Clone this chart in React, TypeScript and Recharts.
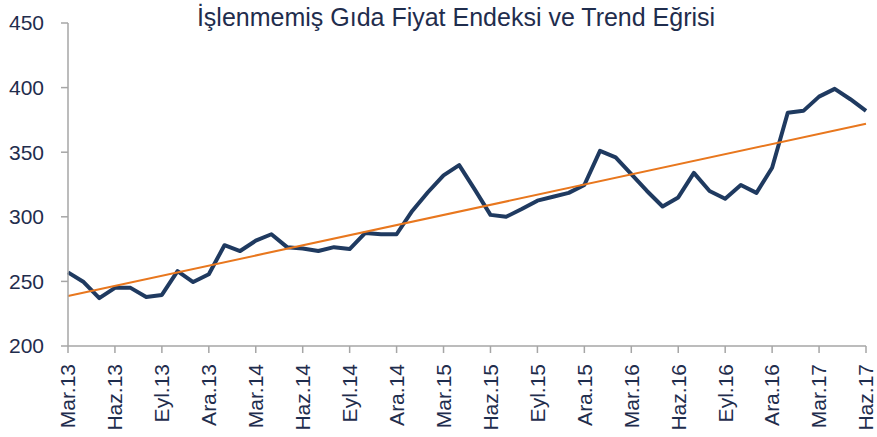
import { CartesianGrid, Line, LineChart, ReferenceLine, XAxis, YAxis } from "recharts";

const MONTHS = [
  "Mar.13", "Nis.13", "May.13", "Haz.13", "Tem.13", "Ağu.13", "Eyl.13", "Eki.13", "Kas.13", "Ara.13",
  "Oca.14", "Şub.14", "Mar.14", "Nis.14", "May.14", "Haz.14", "Tem.14", "Ağu.14", "Eyl.14", "Eki.14", "Kas.14", "Ara.14",
  "Oca.15", "Şub.15", "Mar.15", "Nis.15", "May.15", "Haz.15", "Tem.15", "Ağu.15", "Eyl.15", "Eki.15", "Kas.15", "Ara.15",
  "Oca.16", "Şub.16", "Mar.16", "Nis.16", "May.16", "Haz.16", "Tem.16", "Ağu.16", "Eyl.16", "Eki.16", "Kas.16", "Ara.16",
  "Oca.17", "Şub.17", "Mar.17", "Nis.17", "May.17", "Haz.17",
];

const INDEX_VALUES = [
  257, 249.5, 237, 245, 245, 238, 239.5, 258, 249.5, 255.5,
  278, 273.5, 281.5, 286.5, 276.5, 275.5, 273.5, 276.5, 275, 287.5, 286.5, 286.5,
  304.5, 319, 332, 340, 321, 301.5, 300, 306, 312.5, 315.5, 318.5, 324.6,
  351, 346, 333, 320, 308, 315, 334, 320, 314, 324.6, 318.5, 338,
  380.5, 382, 393, 399, 391, 382,
];

// trend line end points (start / end of the fitted line)
const TREND_START = 238.7;
const TREND_END = 372;

const Y_TICKS = [200, 250, 300, 350, 400, 450];

const TEXT_COLOR = "#1f2d4d";
const AXIS_COLOR = "#a6a6a6";
const FONT = "'Liberation Sans', Arial, sans-serif";

const data = MONTHS.map((month, i) => ({ month, value: INDEX_VALUES[i] }));

const RotatedTick = ({ x, y, payload }: any) => (
  <g transform={`translate(${x},${y + 9})`}>
    <text
      x={0}
      y={0}
      dy="0.35em"
      textAnchor="end"
      transform="rotate(-90)"
      fill={TEXT_COLOR}
      fontSize={21}
      fontFamily={FONT}
    >
      {payload.value}
    </text>
  </g>
);

export default function App() {
  return (
    <div style={{ position: "absolute", left: 0, top: 0, width: 877, height: 437, background: "#fff" }}>
      <div
        style={{
          position: "absolute",
          left: 0,
          top: 3,
          width: 912,
          textAlign: "center",
          fontFamily: FONT,
          fontSize: 25,
          color: TEXT_COLOR,
          whiteSpace: "nowrap",
        }}
      >
        İşlenmemiş Gıda Fiyat Endeksi ve Trend Eğrisi
      </div>
      <LineChart
        width={877}
        height={437}
        data={data}
        margin={{ top: 23, right: 11, bottom: 0, left: 0 }}
      >
        <CartesianGrid stroke="none" />
        <XAxis
          dataKey="month"
          interval={2}
          height={91}
          tickSize={7}
          stroke={AXIS_COLOR}
          strokeWidth={1.5}
          tick={<RotatedTick />}
        />
        <YAxis
          domain={[200, 450]}
          ticks={Y_TICKS}
          width={68}
          tickSize={7}
          tickMargin={17}
          stroke={AXIS_COLOR}
          strokeWidth={1.5}
          tick={{ fill: TEXT_COLOR, fontSize: 21, fontFamily: FONT }}
        />
        <Line
          dataKey="value"
          stroke="#1f3a60"
          strokeWidth={4}
          dot={false}
          strokeLinejoin="round"
          isAnimationActive={false}
        />
        <ReferenceLine
          segment={[
            { x: MONTHS[0], y: TREND_START },
            { x: MONTHS[MONTHS.length - 1], y: TREND_END },
          ]}
          stroke="#e8771e"
          strokeWidth={2}
        />
      </LineChart>
    </div>
  );
}
